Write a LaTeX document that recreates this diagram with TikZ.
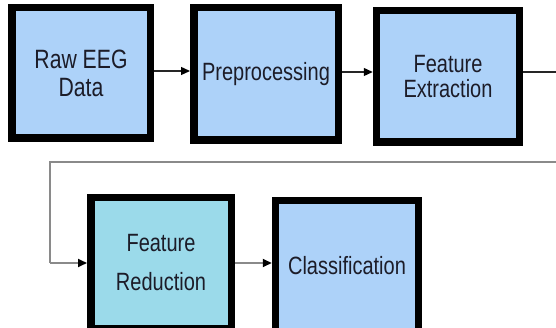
\documentclass[tikz,border=0pt]{standalone}
\usepackage{fontspec}
\setmainfont{Liberation Sans}[FakeStretch=0.8]
\usepackage{xcolor}
\usepackage{tikz}
\usetikzlibrary{arrows.meta, positioning}

\definecolor{boxblue}{HTML}{ADD2F9}
\definecolor{boxcyan}{HTML}{9BDAEA}
\definecolor{loopgray}{HTML}{8A8A8A}
\definecolor{textdark}{HTML}{1C1C28}

\begin{document}
\begin{tikzpicture}[x=1pt,y=-1pt,
    block/.style={draw=black,line width=7.5pt,fill=boxblue,text=textdark,
        minimum width=143pt,minimum height=131pt,inner sep=0pt,align=center,
        font=\fontsize{25}{28}\selectfont},
    flow/.style={line width=1.3pt,draw=black!85,-{Triangle[length=9pt,width=8pt,color=black]}},
    back/.style={line width=1.8pt,draw=loopgray}]

    \useasboundingbox (0,0) rectangle (556,328);

    % Top row of blocks
    \node[block,minimum width=138.5pt,minimum height=130.5pt,font=\fontsize{26.5}{28}\selectfont] (raw) at (81,73) {Raw EEG\\Data};
    \node[block,minimum width=144.5pt,minimum height=132.5pt] (prep) at (266,74) {Preprocessing};
    \node[block,minimum height=131.5pt] (extr) at (448,76.5) {Feature\\[-3pt]Extraction};

    % Bottom row of blocks
    \node[block,fill=boxcyan,minimum width=140.5pt,font=\fontsize{25}{39}\selectfont] (red) at (161,263) {Feature\\Reduction};
    \node[block] (cls) at (347,266) {Classification};

    % Arrows along the top row
    \draw[flow] (raw.east |- 0,71) -- (prep.west |- 0,71);
    \draw[flow] (prep.east |- 0,72) -- (extr.west |- 0,72);
    \coordinate (out) at (556,72);
    \draw[line width=1.3pt,draw=black!85] (extr.east |- out) -- (out);

    % Line coming back to the second row
    \coordinate (in) at (556,162);
    \coordinate (turn) at (50,162);
    \draw[back] (in) -- (turn) -- (turn |- red.west);
    \draw[flow,draw=loopgray,line width=1.8pt] (turn |- red.west) -- (red.west);
    \draw[flow,draw=loopgray,line width=1.8pt] (red.east) -- (red.east -| cls.west);

\end{tikzpicture}
\end{document}
